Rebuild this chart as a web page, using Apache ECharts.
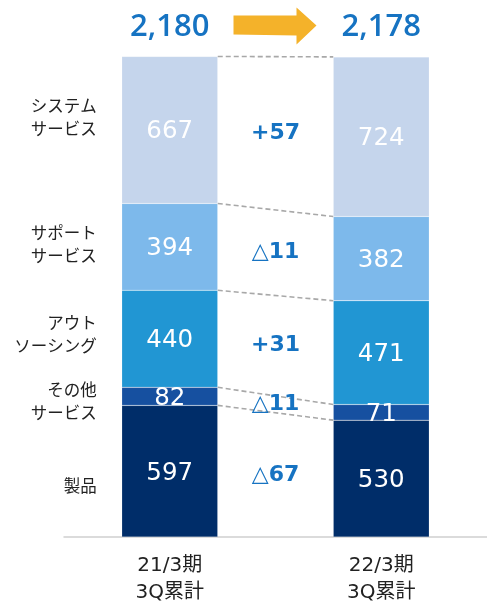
<!DOCTYPE html>
<html><head><meta charset="utf-8">
<script src="https://cdn.jsdelivr.net/npm/echarts@6/dist/echarts.min.js"></script>
<style>html,body{margin:0;padding:0;background:#fff}#c{width:487px;height:606px}</style>
</head><body><div id="c"></div>
<script>
const categories = ['21/3期\n3Q累計', '22/3期\n3Q累計'];
const segmentNames = ['製品', 'その他\nサービス', 'アウト\nソーシング', 'サポート\nサービス', 'システム\nサービス'];
const products = [597, 530];
const otherServices = [82, 71];
const outsourcing = [440, 471];
const supportServices = [394, 382];
const systemServices = [667, 724];
const totals = ['2,180', '2,178'];
const diffLabels = ['△67', '△11', '+31', '△11', '+57'];

const segValues = [products, otherServices, outsourcing, supportServices, systemServices];
const colors = ['#002D69', '#1650A0', '#2196D3', '#7DB9EB', '#C5D5EC'];
const leftLabelDy = [15, 5, -5, -3, -13];
const BAR_W = 96;
const FONT = '"Noto Sans CJK JP", "Noto Sans", sans-serif';
const WIDE = '"DejaVu Sans", "Noto Sans CJK JP", sans-serif';
const BLUE = '#1673C2';

function cum(ci) { const out = [0]; segValues.forEach(a => out.push(out[out.length - 1] + a[ci])); return out; }
const cum0 = cum(0), cum1 = cum(1);
const maxTotal = Math.max(cum0[5], cum1[5]);

const barSeries = segValues.map((vals, i) => ({
  type: 'bar', stack: 'total', name: segmentNames[i], data: vals, barWidth: BAR_W,
  itemStyle: { color: colors[i], borderColor: 'rgba(255,255,255,0.35)', borderWidth: 0.5 },
  label: { show: true, position: 'inside', color: '#fff', fontSize: 24.5, fontFamily: '"DejaVu Sans", sans-serif', fontWeight: 'normal', offset: [0, 2] },
  z: 2
}));

const chart = echarts.init(document.getElementById('c'), null, { renderer: 'canvas' });
chart.setOption({
  animation: false,
  textStyle: { fontFamily: FONT },
  grid: { left: 64, width: 424, top: 56, bottom: 66 },
  xAxis: {
    type: 'category', data: categories,
    axisLine: { lineStyle: { color: '#cfcfcf', width: 1.5 } },
    axisTick: { show: false },
    axisLabel: { color: '#222', fontSize: 20, lineHeight: 27, margin: 15, fontFamily: WIDE }
  },
  yAxis: { type: 'value', min: 0, max: maxTotal + 2, show: false, splitLine: { show: false } },
  series: barSeries.concat([
    {
      type: 'custom', z: 3, silent: true,
      data: [1, 2, 3, 4, 5].map(k => [k]),
      renderItem: function (params, api) {
        const k = api.value(0);
        const p0 = api.coord([0, cum0[k]]);
        const p1 = api.coord([1, cum1[k]]);
        return { type: 'line', shape: { x1: p0[0] + BAR_W / 2, y1: p0[1], x2: p1[0] - BAR_W / 2, y2: p1[1] },
          style: { stroke: '#a8a8a8', lineWidth: 1.6, lineDash: [5, 3] } };
      }
    },
    {
      type: 'custom', z: 4, silent: true,
      data: [0, 1, 2, 3, 4].map(i => [i]),
      renderItem: function (params, api) {
        const i = api.value(0);
        const m0 = (cum0[i] + cum0[i + 1]) / 2, m1 = (cum1[i] + cum1[i + 1]) / 2;
        const a = api.coord([0, m0]), b = api.coord([1, m1]);
        return { type: 'text', x: (a[0] + b[0]) / 2, y: (a[1] + b[1]) / 2,
          style: { text: diffLabels[i], fill: BLUE, font: 'bold 22px "DejaVu Sans", sans-serif', textAlign: 'center', textVerticalAlign: 'middle' } };
      }
    },
    {
      type: 'custom', z: 4, silent: true,
      data: [0, 1, 2, 3, 4].map(i => [i]),
      renderItem: function (params, api) {
        const i = api.value(0);
        const p = api.coord([0, (cum0[i] + cum0[i + 1]) / 2]);
        return { type: 'text', x: p[0] - BAR_W / 2 - 25, y: p[1] + leftLabelDy[i],
          style: { text: segmentNames[i], fill: '#222', font: '16.5px ' + FONT, lineHeight: 23, textAlign: 'right', textVerticalAlign: 'middle' } };
      }
    },
    {
      type: 'custom', z: 4, silent: true,
      data: [0, 1].map(i => [i]),
      renderItem: function (params, api) {
        const i = api.value(0);
        const p = api.coord([i, cum0[5]]);
        return { type: 'text', x: p[0], y: p[1] - 29,
          style: { text: totals[i], fill: BLUE, font: '600 31px "Open Sans", sans-serif', textAlign: 'center', textVerticalAlign: 'middle' } };
      }
    },
    {
      type: 'custom', z: 4, silent: true,
      data: [[0]],
      renderItem: function (params, api) {
        const a = api.coord([0, cum0[5]]), b = api.coord([1, cum1[5]]);
        const cx = (a[0] + b[0]) / 2, cy = a[1] - 31;
        const x0 = cx - 42, x1 = cx + 21, x2 = cx + 41;
        return { type: 'polygon', shape: { points: [[x0, cy - 10], [x1, cy - 10], [x1, cy - 18], [x2, cy], [x1, cy + 19], [x1, cy + 10], [x0, cy + 9]] },
          style: { fill: '#F4B22A' } };
      }
    }
  ])
});
</script></body></html>
